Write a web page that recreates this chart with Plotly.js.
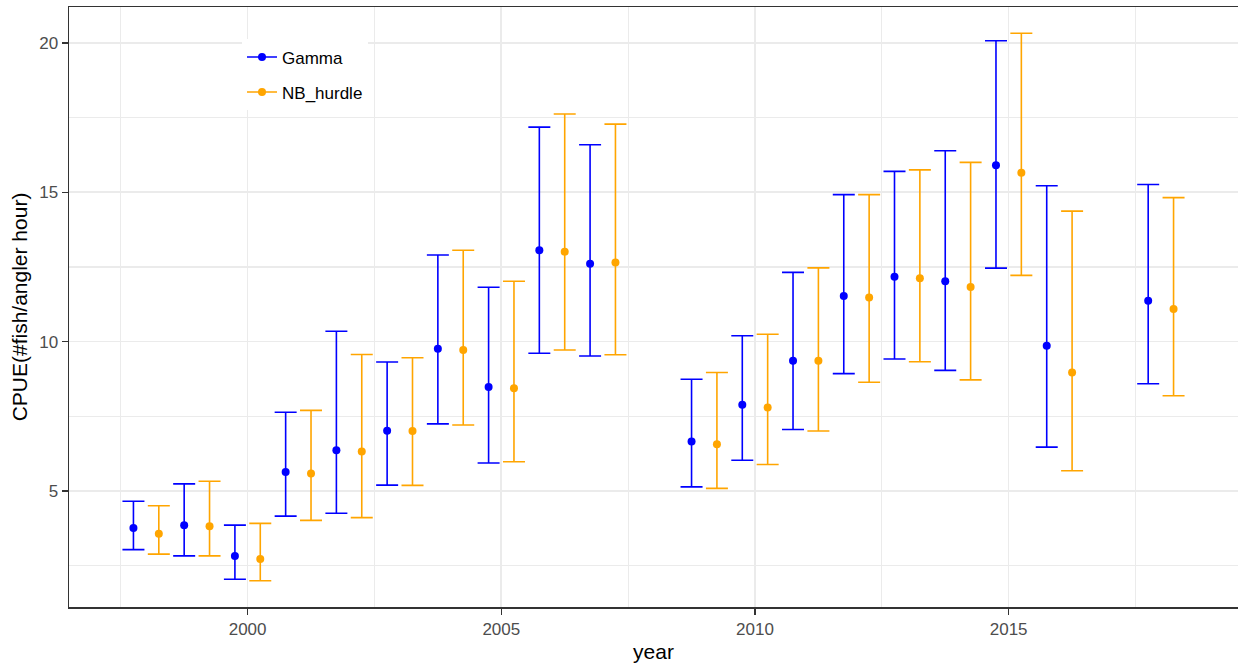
<!DOCTYPE html>
<html>
<head>
<meta charset="utf-8">
<script src="https://cdn.plot.ly/plotly-3.0.1.min.js"></script>
<style>
html,body{margin:0;padding:0;background:#fff;}
#chart{width:1238px;height:668px;}
</style>
</head>
<body>
<div id="chart"></div>
<script>
// ---- data ----
const years = [1998,1999,2000,2001,2002,2003,2004,2005,2006,2007,2009,2010,2011,2012,2013,2014,2015,2016,2018];

const gammaEst = [3.76,3.86,2.83,5.64,6.37,7.02,9.76,8.48,13.06,12.61,6.66,7.89,9.36,11.53,12.17,12.02,15.90,9.86,11.37];
const gammaLo  = [3.04,2.83,2.05,4.16,4.26,5.20,7.25,5.94,9.61,9.52,5.14,6.03,7.06,8.93,9.42,9.04,12.46,6.47,8.59];
const gammaHi  = [4.66,5.24,3.86,7.64,10.35,9.32,12.90,11.82,17.18,16.59,8.74,10.20,12.32,14.92,15.70,16.39,20.07,15.22,15.26];

const nbEst = [3.57,3.82,2.73,5.59,6.32,7.01,9.72,8.44,13.01,12.65,6.57,7.80,9.36,11.48,12.12,11.83,15.65,8.97,11.09];
const nbLo  = [2.89,2.83,2.00,4.02,4.11,5.19,7.21,5.98,9.72,9.56,5.09,5.89,7.01,8.64,9.33,8.72,12.22,5.68,8.19];
const nbHi  = [4.51,5.33,3.92,7.70,9.57,9.46,13.06,12.02,17.62,17.28,8.97,10.25,12.47,14.92,15.75,16.00,20.32,14.37,14.82];

const seriesNames = ["Gamma","NB_hurdle"];
const xTicks = [2000,2005,2010,2015];
const yTicks = [5,10,15,20];

// ---- styling ----
const COL_G = "#0000FF", COL_NB = "#FFA500";
const DODGE = 0.25;
const FONT = "Liberation Sans, Arial, sans-serif";

function series(name, est, lo, hi, color, offset, group){
  return {
    type: "scatter", mode: "markers", name: name, showlegend: false, legendgroup: group,
    x: years.map(y => y + offset), y: est,
    marker: {color: color, size: 8},
    error_y: {type: "data", symmetric: false,
      array: hi.map((h,i) => h - est[i]),
      arrayminus: lo.map((l,i) => est[i] - l),
      color: color, thickness: 1.6, width: 11},
    hoverinfo: "x+y"
  };
}
function legendEntry(name, color, group){
  return {type:"scatter", mode:"lines+markers", name:name, legendgroup:group,
    x:[null], y:[null], line:{color:color, width:1.6}, marker:{color:color, size:8}};
}

const data = [
  series(seriesNames[0], gammaEst, gammaLo, gammaHi, COL_G, -DODGE, "g"),
  series(seriesNames[1], nbEst, nbLo, nbHi, COL_NB, DODGE, "n"),
  legendEntry(seriesNames[0], COL_G, "g"),
  legendEntry(seriesNames[1], COL_NB, "n")
];

const axisCommon = {
  showline: true, linecolor: "#333333", linewidth: 1.5,
  ticks: "outside", ticklen: 6, tickwidth: 1.5, tickcolor: "#333333",
  showgrid: true, gridcolor: "#EBEBEB", gridwidth: 1.6,
  zeroline: false,
  tickfont: {family: FONT, size: 17, color: "#4D4D4D"},
  automargin: false
};

const layout = {
  width: 1238, height: 668,
  margin: {l: 69, r: 0, t: 7, b: 61},
  paper_bgcolor: "#fff", plot_bgcolor: "#fff",
  font: {family: FONT, color: "#000"},
  showlegend: true,
  legend: {x: 0.148, y: 0.946, xanchor: "left", yanchor: "top",
    bgcolor: "#fff", borderwidth: 0, tracegroupgap: 10,
    font: {family: FONT, size: 17, color: "#000"}},
  xaxis: Object.assign({}, axisCommon, {
    range: [1996.48, 2019.52], tickvals: xTicks, ticktext: xTicks.map(String),
    mirror: true,
    minor: {dtick: 2.5, tick0: 1997.5, showgrid: true, gridcolor: "#EBEBEB", gridwidth: 1.1, ticklen: 0},
    title: {text: "year", font: {family: FONT, size: 21, color: "#000"}, standoff: 6}
  }),
  yaxis: Object.assign({}, axisCommon, {
    range: [1.12, 21.2], tickvals: yTicks, ticktext: yTicks.map(String),
    mirror: false,
    minor: {dtick: 2.5, tick0: 2.5, showgrid: true, gridcolor: "#EBEBEB", gridwidth: 1.1, ticklen: 0},
    title: {text: "CPUE(#fish/angler hour)", font: {family: FONT, size: 21, color: "#000"}, standoff: 6}
  })
};

Plotly.newPlot("chart", data, layout, {displayModeBar: false, staticPlot: true});
</script>
</body>
</html>
